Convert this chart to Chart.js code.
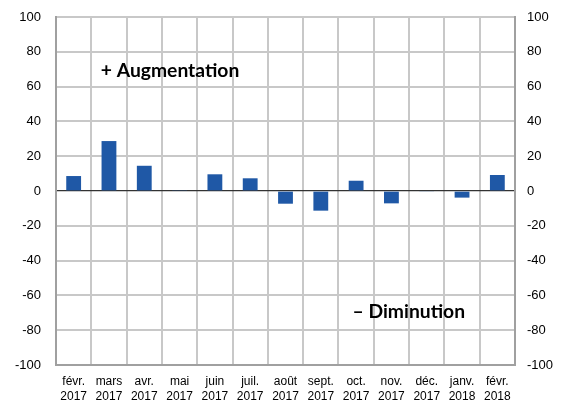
<!DOCTYPE html>
<html><head><meta charset="utf-8">
<script src="https://cdn.jsdelivr.net/npm/chart.js@4/dist/chart.umd.min.js"></script>
<style>html,body{margin:0;padding:0;background:#fff}#w{width:563px;height:403px}</style>
</head><body><div id="w"><canvas id="c"></canvas></div>
<script>
const categories = [["févr.","2017"],["mars","2017"],["avr.","2017"],["mai","2017"],["juin","2017"],["juil.","2017"],["août","2017"],["sept.","2017"],["oct.","2017"],["nov.","2017"],["déc.","2017"],["janv.","2018"],["févr.","2018"]];
const values = [8.6, 28.7, 14.5, 0.5, 9.6, 7.3, -7.3, -11.3, 5.9, -7.1, -0.3, -3.8, 9.2];
const yTicks = [-100,-80,-60,-40,-20,0,20,40,60,80,100];
const annotations = [
  {text:"+ Augmentation", cat:0.77, val:65.5},
  {text:"– Diminution", cat:7.9, val:-73.2}
];

const annot = {
  id:'annot',
  afterDatasetsDraw(chart){
    const ctx = chart.ctx, x = chart.scales.x, y = chart.scales.y;
    ctx.save();
    ctx.font = 'bold 19.3px Lato, "Open Sans", sans-serif';
    ctx.fillStyle = '#000';
    ctx.textBaseline = 'alphabetic';
    ctx.textAlign = 'left';
    const w = x.getPixelForValue(1)-x.getPixelForValue(0);
    annotations.forEach(a=>{
      const px = x.getPixelForValue(Math.floor(a.cat)) + (a.cat-Math.floor(a.cat))*w;
      ctx.fillText(a.text, px, y.getPixelForValue(a.val));
    });
    ctx.restore();
  }
};

const gridColor = c => (c.tick && c.tick.value === 0) ? '#333' : '#c8c8c8';
const gridWidth = c => (c.tick && c.tick.value === 0) ? 1.3 : 2;
const tickFont = {family:'"Liberation Sans", Arial, sans-serif', size:13};
function fitV(w){ return s => { s.width = w; s.paddingTop = 0; s.paddingBottom = 0; }; }

new Chart(document.getElementById('c'), {
  type:'bar',
  data:{labels:categories, datasets:[{data:values, backgroundColor:'#1f58a6', barPercentage:0.42, categoryPercentage:1}]},
  options:{
    responsive:true, maintainAspectRatio:false, animation:false,
    layout:{padding:{top:17,left:0,right:0,bottom:0}},
    plugins:{legend:{display:false}, tooltip:{enabled:false}},
    scales:{
      x:{
        grid:{color:'#c8c8c8', lineWidth:2, drawTicks:false, offset:true},
        border:{color:'#a0a0a0', width:2},
        ticks:{color:'#000', font:{family:'"Liberation Sans", Arial, sans-serif', size:12, lineHeight:1.25}, maxRotation:0, autoSkip:false, padding:9},
        afterFit(s){ s.height = 38; s.paddingLeft = 0; s.paddingRight = 0; }
      },
      y:{
        position:'left', min:-100, max:100,
        afterBuildTicks(s){s.ticks = yTicks.map(v=>({value:v}));},
        grid:{color:gridColor, lineWidth:gridWidth, drawTicks:false},
        border:{color:'#a0a0a0', width:2},
        ticks:{color:'#000', font:tickFont, padding:15},
        afterFit: fitV(56)
      },
      y1:{
        position:'right', min:-100, max:100,
        afterBuildTicks(s){s.ticks = yTicks.map(v=>({value:v}));},
        grid:{drawOnChartArea:false, drawTicks:false},
        border:{color:'#a0a0a0', width:2},
        ticks:{color:'#000', font:tickFont, padding:12},
        afterFit: fitV(48)
      }
    }
  },
  plugins:[annot]
});
</script></body></html>
